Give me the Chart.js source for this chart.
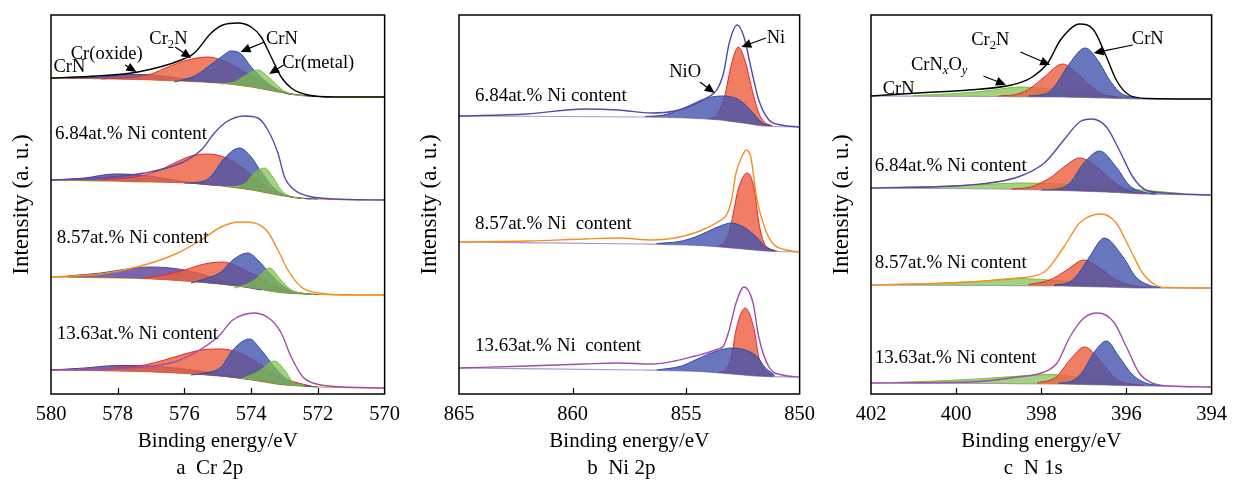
<!DOCTYPE html>
<html>
<head>
<meta charset="utf-8">
<script src="https://cdn.jsdelivr.net/npm/chart.js@4.4.1/dist/chart.umd.min.js"></script>
<style>
  html, body { margin: 0; padding: 0; background: #fff; }
  body { width: 1235px; height: 482px; position: relative; overflow: hidden; }
  .panel { position: absolute; top: 0; height: 482px; }
</style>
</head>
<body>
<div class="panel" style="left:0;width:408px"><canvas id="crChart"></canvas></div>
<div class="panel" style="left:408px;width:415px"><canvas id="niChart"></canvas></div>
<div class="panel" style="left:820px;width:415px"><canvas id="nChart"></canvas></div>
<script>
// ---- Cr 2p (binding energy eV, intensity a.u.), spectra top to bottom ----
const crEnvelope = [
    [[580,316],[578.6,318],[577.4,322],[576.1,334],[575.7,341],[575.2,361],[574.85,369],[574.4,371],[574.0,367],[573.7,357],[573.4,337],[573.1,317],[572.8,306],[572.3,299],[571.5,297],[570,297]],
    [[580,214],[578.5,216],[577.2,221],[576.1,231],[575.5,244],[575.1,261],[574.75,272],[574.2,278],[573.8,276],[573.5,264],[573.2,241],[573.0,217],[572.7,204],[572.3,198],[571.5,195],[570,194]],
    [[580,117],[578.5,120],[577.2,129],[576.2,141],[575.5,154],[574.9,167],[574.35,172],[573.9,171],[573.5,162],[573.2,144],[572.9,124],[572.5,107],[572.0,101],[571,99],[570,99]],
    [[580,24],[578.5,25],[577.2,27],[576.3,32],[575.7,41],[575.0,57],[574.55,74],[573.9,81],[573.4,74],[573.1,61],[572.8,37],[572.45,17],[572.15,11],[571.5,7.5],[570,6]]
];
const crBackground = [
    [[580,316],[577,314],[575,311],[574,307],[573,301],[572,297.5],[570,297]],
    [[580,214],[577,212],[575.5,210],[574,204],[573,198],[572,195],[570,194]],
    [[580,117],[577,115],[575,110],[574,106],[573,101],[572,99.5],[570,99]],
    [[580,24],[577,22],[575,18],[574,14],[573,9],[572,7],[570,6]]
];
const crOxide = [
    [[579.5,316],[578.5,317],[577.6,319.5],[577.0,319],[576.2,316],[575.5,313],[575,311.5]],
    [[580,214],[579,216],[578.1,220],[577.3,219],[576.5,215],[575.8,211],[575,208.5]],
    [[579.5,118],[578.5,121],[577.7,125],[577.0,127],[576.3,125.5],[575.6,121],[575,115],[574.3,108],[573.7,104]],
    [[580,24],[579,26],[578,28.5],[577,28],[576,25],[575,20],[574,15],[573,10.5]]
];
const crCr2N = [
    [[578.5,315],[577.5,317],[577.0,320],[576.5,327],[575.9,334],[575.3,337],[574.75,332],[574.2,322],[573.6,311],[573.1,303],[572.6,299],[572,297.5]],
    [[578.5,214],[577.5,217],[576.8,223],[576.3,231],[575.8,238],[575.3,240],[574.75,236],[574.3,227],[573.8,214],[573.3,202],[572.8,197],[572.2,195]],
    [[577.2,116],[576.6,119],[576.0,124],[575.4,130],[574.85,132],[574.2,124],[573.6,114],[573.0,105],[572.6,101.5],[572,99.5]],
    [[578.3,25],[577.2,29],[576.6,34],[576.1,39],[575.5,44],[574.9,45],[574.35,41],[573.8,31],[573.1,17],[572.7,12],[572.2,8]]
];
const crCrN = [
    [[576.3,312],[575.7,318],[575.3,327],[574.9,337],[574.6,343],[574.3,340],[574.0,327],[573.5,311],[573.0,301],[572.6,299],[572,297.5]],
    [[576.0,211],[575.4,213],[575.1,222],[574.85,234],[574.35,246],[574.0,237],[573.7,222],[573.35,207],[573.0,199],[572.6,196],[572,195]],
    [[575.8,111],[575.4,115],[574.9,122],[574.55,134],[574.1,141],[573.8,134],[573.4,119],[573.0,107],[572.7,102],[572.2,99.5]],
    [[575.8,19],[575.4,21],[574.9,27],[574.55,44],[574.05,55],[573.7,44],[573.3,27],[572.9,14],[572.5,9],[572,7]]
];
const crMetal = [
    [[574.9,310],[574.5,312],[574.2,318],[573.8,324],[573.45,316],[573.1,305],[572.8,300],[572.4,298]],
    [[574.7,207],[574.2,210],[573.9,221],[573.6,226],[573.35,217],[573.1,204],[572.85,198],[572.4,195.5]],
    [[574.5,106],[574.18,109],[573.89,114],[573.45,126],[573.11,114],[572.8,104],[572.5,101],[572.1,99.5]],
    [[574.3,15],[573.8,22],[573.3,33],[573.0,24],[572.75,12],[572.4,8.5]]
];

// ---- Ni 2p ----
const niEnvelope = [
    [[865,278],[862,280],[859.5,285],[858,284],[856.5,281],[855.5,283],[854.8,288],[854.1,296],[853.65,304],[853.35,321],[853.1,351],[852.75,369],[852.45,357],[852.15,327],[851.8,294],[851.35,274],[850.8,269],[850,267]],
    [[865,152],[862,153],[859.5,155],[858,156],[856.5,154],[855.5,156],[854.5,162],[854.1,166],[853.6,172],[853.2,180],[853.0,194],[852.8,221],[852.55,237],[852.35,244],[852.15,237],[851.9,197],[851.55,167],[851.2,151],[850.6,144],[850,142]],
    [[865,26],[862,28],[859.5,30],[858,31],[856.5,30],[855.5,33],[854.6,38],[854.1,41],[853.6,45],[853.35,48],[853.1,64],[852.8,91],[852.45,107],[852.05,91],[851.8,57],[851.35,27],[850.75,19],[850,17]]
];
const niBackground = [
    [[865,278],[857,277],[855,276],[853.5,274],[852.5,271],[851.5,268],[850,267]],
    [[865,152],[857,150],[855,149],[853.5,147],[852.5,145],[851.5,143],[850,142]],
    [[865,26],[857,24],[855,23],[853.5,21],[852.5,19],[851.5,17.5],[850,17]]
];
const niOxide = [
    [[856.8,277.5],[856.0,279],[855.3,284],[854.8,289],[854.2,295],[853.45,298],[852.65,294],[852.05,281],[851.7,272],[851.3,268.5]],
    [[856.3,150.5],[855.3,152.5],[854.6,157],[854.1,162],[853.5,168],[853.0,171],[852.4,166],[851.9,157],[851.5,147],[851.1,143.5]],
    [[856.3,24],[855.2,28],[854.6,34],[854.1,39],[853.5,44],[853.0,46],[852.4,44],[851.9,38],[851.5,26],[851.1,19]]
];
const niMetal = [
    [[854.0,275],[853.6,280],[853.3,298],[853.0,330],[852.7,347],[852.4,333],[852.1,305],[851.8,281],[851.5,271],[851.2,268.5]],
    [[853.6,148],[853.25,153],[853.0,172],[852.7,205],[852.3,221],[852.0,205],[851.8,172],[851.6,153],[851.3,145],[851.0,143]],
    [[853.6,21],[853.2,26],[853.0,37],[852.8,64],[852.4,86],[852.0,64],[851.8,37],[851.5,23],[851.2,19]]
];

// ---- N 1s ----
const nEnvelope = [
    [[402,298],[400.9,301],[399.7,304],[398.7,309],[398.25,316],[397.85,331],[397.55,354],[397.1,370],[396.77,364],[396.47,337],[396.24,314],[395.94,299],[395.5,295.5],[394,295]],
    [[402,206],[399.7,209],[398.55,217],[397.93,231],[397.47,254],[397.1,272],[396.82,275],[396.47,267],[396.17,244],[395.85,217],[395.55,204],[395.1,201],[394,199]],
    [[402,109],[399.7,112],[398.55,116],[397.93,122],[397.47,147],[397.1,171],[396.6,180],[396.24,171],[395.94,147],[395.62,121],[395.32,109],[395.0,106.5],[394,106]],
    [[402,11],[399.7,12],[398.55,17],[397.93,22],[397.63,31],[397.33,57],[397.0,76],[396.68,81],[396.3,72],[396.0,47],[395.7,21],[395.4,11],[395.0,8],[394,7]]
];
const nBackground = [
    [[402,298],[399,297.5],[397.5,297],[396.5,296],[395.5,295],[394,295]],
    [[402,206],[399,205],[397.5,203.5],[396.5,202],[395.5,200],[394,199]],
    [[402,109],[399,108.5],[397.5,108],[396.5,107],[395.5,106],[394,106]],
    [[402,11],[399,10.5],[397.5,10],[396.5,9],[395.5,8],[394,7]]
];
const nCrNxOy = [
    [[401,298.5],[400,300.5],[399.2,303.5],[398.5,307],[397.8,305],[397,301],[396.3,297.5],[395.8,296]],
    [[401.5,206.5],[400.5,207.5],[399.5,209],[398.5,211],[397.5,210],[396.5,207],[395.5,203.5],[394.7,200.5]],
    [[401.5,109.5],[400.5,110.5],[399.5,112.5],[398.6,115.5],[397.8,114],[397,111],[396.2,108],[395.5,106.5]],
    [[401.5,11.5],[400.5,13],[399.5,15],[398.5,18],[397.8,19.5],[397.2,17],[396.5,13],[395.8,9.5]]
];
const nCr2N = [
    [[399.0,298],[398.55,300],[398.25,306],[397.93,317],[397.5,330],[397.17,321],[396.87,309],[396.55,299.5],[396.2,297]],
    [[398.7,205],[398.25,207],[397.8,216],[397.47,227],[397.1,236],[396.7,227],[396.3,212],[395.95,203],[395.6,200.5]],
    [[398.3,109.5],[397.8,114],[397.4,124],[397.0,134],[396.63,126],[396.24,114],[395.8,108],[395.4,106.5]],
    [[398.1,11],[397.65,17],[397.33,34],[396.98,47],[396.63,34],[396.3,17],[396.0,10.5],[395.6,9]]
];
const nCrN = [
    [[398.3,298],[397.85,301],[397.63,311],[397.33,331],[396.97,346],[396.63,331],[396.4,314],[396.08,299.5],[395.7,296.5]],
    [[398,204],[397.63,205],[397.33,211],[397.0,231],[396.63,243],[396.24,227],[395.94,209],[395.62,202],[395.3,200]],
    [[397.7,109],[397.33,112],[397.1,122],[396.87,137],[396.52,156],[396.08,137],[395.78,117],[395.48,109],[395.2,106.5]],
    [[397.6,10.5],[397.23,14],[397.0,24],[396.77,41],[396.47,53],[396.17,37],[395.85,19],[395.55,11],[395.2,8.5]]
];

const crTicks = [580, 578, 576, 574, 572, 570];
const niTicks = [865, 860, 855, 850];
const nTicks = [402, 400, 398, 396, 394];
const captions = ['a  Cr 2p', 'b  Ni 2p', 'c  N 1s'];

const SERIF = '"Liberation Serif", "Times New Roman", serif';
const BLACK = '#000000', PURPLE = '#5a48a6', ORANGE = '#f4901e', MAGENTA = '#a04eab';
const GOLD_BG = '#d6a21e', LILAC_BG = '#a995cf';

const RED = { line: '#e3262b', fill: 'rgba(236,98,66,0.82)', order: 30 };
const BLUE = { line: '#2a4ea3', fill: 'rgba(68,82,172,0.8)', order: 20 };
const GREEN = { line: '#78bd3a', fill: 'rgba(128,192,76,0.72)', order: 10 };
const VIOLET = { line: '#4f3b93', fill: 'rgba(88,62,150,0.8)', order: 40 };

function curve(points, color, width, fill, order, bg) {
    return {
        data: points.map(p => ({ x: p[0], y: p[1] })),
        borderColor: color,
        borderWidth: width,
        backgroundColor: bg || 'transparent',
        fill: fill,
        order: order,
        pointRadius: 0,
        cubicInterpolationMode: 'monotone'
    };
}

// one background line per spectrum, peaks filled down to it, envelope on top
function buildSpectra(envelopes, backgrounds, peaks, envColors, bgColor) {
    const datasets = [];
    envelopes.forEach((env, i) => {
        const bgIndex = datasets.length;
        datasets.push(curve(backgrounds[i], bgColor, 1.1, false, 50));
        peaks.forEach(p => {
            datasets.push(curve(p.data[i], p.style.line, 1, { target: bgIndex }, p.style.order, p.style.fill));
        });
        datasets.push(curve(env, envColors[i], 1.4, false, 0));
    });
    return datasets;
}

function drawRich(ctx, parts, x, y, size, align) {
    const fontFor = st => (st === 'isub' ? 'italic ' : '') + (st ? size * 0.68 : size).toFixed(1) + 'px ' + SERIF;
    let w = 0;
    parts.forEach(([t, st]) => { ctx.font = fontFor(st); w += ctx.measureText(t).width; });
    let cx = align === 'left' ? x : x - w / 2;
    const base = y + size * 0.33;
    ctx.textAlign = 'left';
    ctx.textBaseline = 'alphabetic';
    parts.forEach(([t, st]) => {
        ctx.font = fontFor(st);
        ctx.fillText(t, cx, st ? base + size * 0.22 : base);
        cx += ctx.measureText(t).width;
    });
}

function drawArrow(ctx, x1, y1, x2, y2) {
    const ang = Math.atan2(y2 - y1, x2 - x1);
    const len = 10, half = 4.5;
    ctx.beginPath();
    ctx.moveTo(x1, y1);
    ctx.lineTo(x2 - Math.cos(ang) * len * 0.8, y2 - Math.sin(ang) * len * 0.8);
    ctx.stroke();
    ctx.beginPath();
    ctx.moveTo(x2, y2);
    ctx.lineTo(x2 - Math.cos(ang) * len - Math.sin(ang) * half, y2 - Math.sin(ang) * len + Math.cos(ang) * half);
    ctx.lineTo(x2 - Math.cos(ang) * len + Math.sin(ang) * half, y2 - Math.sin(ang) * len - Math.cos(ang) * half);
    ctx.closePath();
    ctx.fill();
}

// frame, inward ticks, peak labels, arrows and caption
const framePlugin = {
    id: 'frame',
    afterDraw(chart, args, opts) {
        const { ctx, chartArea: a } = chart;
        const xs = chart.scales.x, ys = chart.scales.y;
        ctx.save();
        ctx.strokeStyle = '#000';
        ctx.fillStyle = '#000';
        ctx.lineWidth = 1.5;
        ctx.strokeRect(a.left, a.top, a.right - a.left, a.bottom - a.top);
        ctx.lineWidth = 1.2;
        opts.ticks.slice(1, -1).forEach(v => {
            const px = Math.round(xs.getPixelForValue(v)) + 0.5;
            ctx.beginPath();
            ctx.moveTo(px, a.bottom);
            ctx.lineTo(px, a.bottom - 6);
            ctx.stroke();
        });
        opts.notes.forEach(n => {
            drawRich(ctx, n.parts, xs.getPixelForValue(n.x), ys.getPixelForValue(n.y), n.size || 18.5, n.align);
        });
        ctx.lineWidth = 1.2;
        opts.arrows.forEach(r => {
            drawArrow(ctx, xs.getPixelForValue(r[0]), ys.getPixelForValue(r[1]), xs.getPixelForValue(r[2]), ys.getPixelForValue(r[3]));
        });
        ctx.font = '21px ' + SERIF;
        ctx.textAlign = 'center';
        ctx.textBaseline = 'middle';
        ctx.fillText(opts.caption, (a.left + a.right) / 2 - 8, 468);
        ctx.restore();
    }
};

function makeChart(id, datasets, range, step, rightPad, frame) {
    return new Chart(document.getElementById(id), {
        type: 'line',
        data: { datasets: datasets },
        options: {
            responsive: true,
            maintainAspectRatio: false,
            animation: false,
            events: [],
            layout: { padding: { left: 0, top: 15, right: rightPad, bottom: 28 }, autoPadding: false },
            plugins: { legend: { display: false }, tooltip: { enabled: false }, frame: frame },
            scales: {
                x: {
                    type: 'linear',
                    min: range[1],
                    max: range[0],
                    reverse: true,
                    grid: { display: false, drawTicks: false },
                    border: { display: false },
                    ticks: {
                        stepSize: step,
                        autoSkip: false,
                        maxRotation: 0,
                        padding: 8,
                        color: '#000',
                        font: { family: SERIF, size: 20.5 }
                    },
                    title: {
                        display: true,
                        text: 'Binding energy/eV',
                        color: '#000',
                        padding: 0,
                        font: { family: SERIF, size: 21 }
                    },
                    afterFit: s => { s.height = 60; }
                },
                y: {
                    min: 0,
                    max: 379,
                    grid: { display: false, drawTicks: false },
                    border: { display: false },
                    ticks: { display: false },
                    title: {
                        display: true,
                        text: 'Intensity (a. u.)',
                        color: '#000',
                        padding: { top: 8, bottom: 0 },
                        font: { family: SERIF, size: 23 }
                    },
                    afterFit: s => { s.width = 51; }
                }
            }
        },
        plugins: [framePlugin]
    });
}

const sample = (t, x, y) => ({ parts: [[t]], x: x, y: y, align: 'left', size: 19 });

makeChart('crChart',
    buildSpectra(crEnvelope, crBackground, [
        { data: crOxide, style: VIOLET },
        { data: crCr2N, style: RED },
        { data: crCrN, style: BLUE },
        { data: crMetal, style: GREEN }
    ], [BLACK, PURPLE, ORANGE, MAGENTA], GOLD_BG),
    [580, 570], 2, 10,
    {
        ticks: crTicks,
        caption: captions[0],
        notes: [
            sample('6.84at.% Ni content', 579.88, 261),
            sample('8.57at.% Ni content', 579.83, 157),
            sample('13.63at.% Ni content', 579.83, 61),
            { parts: [['Cr'], ['2', 'sub'], ['N']], x: 576.48, y: 356 },
            { parts: [['Cr(oxide)']], x: 578.33, y: 341 },
            { parts: [['CrN']], x: 579.45, y: 328 },
            { parts: [['CrN']], x: 573.08, y: 356 },
            { parts: [['Cr(metal)']], x: 571.99, y: 332 }
        ],
        arrows: [
            [576.28, 347, 575.79, 336],
            [577.78, 329, 577.44, 322],
            [573.6, 352, 574.32, 342],
            [573.03, 329, 573.46, 320]
        ]
    });

makeChart('niChart',
    buildSpectra(niEnvelope, niBackground, [
        { data: niMetal, style: RED },
        { data: niOxide, style: BLUE }
    ], [PURPLE, ORANGE, MAGENTA], LILAC_BG),
    [865, 850], 5, 18,
    {
        ticks: niTicks,
        caption: captions[1],
        notes: [
            sample('6.84at.% Ni content', 864.3, 299),
            sample('8.57at.% Ni  content', 864.3, 171),
            sample('13.63at.% Ni  content', 864.3, 49),
            { parts: [['NiO']], x: 855.04, y: 323 },
            { parts: [['Ni']], x: 851.04, y: 357 }
        ],
        arrows: [
            [854.39, 312, 853.74, 301],
            [851.48, 356, 852.57, 347]
        ]
    });

makeChart('nChart',
    buildSpectra(nEnvelope, nBackground, [
        { data: nCrNxOy, style: Object.assign({}, GREEN, { order: 40 }) },
        { data: nCr2N, style: RED },
        { data: nCrN, style: BLUE }
    ], [BLACK, PURPLE, ORANGE, MAGENTA], LILAC_BG),
    [402, 394], 2, 18,
    {
        ticks: nTicks,
        caption: captions[2],
        notes: [
            sample('6.84at.% Ni content', 401.91, 229),
            sample('8.57at.% Ni content', 401.91, 132),
            sample('13.63at.% Ni content', 401.91, 37),
            { parts: [['Cr'], ['2', 'sub'], ['N']], x: 399.2, y: 355 },
            { parts: [['CrN'], ['x', 'isub'], ['O'], ['y', 'isub']], x: 400.4, y: 330 },
            { parts: [['CrN']], x: 401.35, y: 306 },
            { parts: [['CrN']], x: 395.5, y: 356 }
        ],
        arrows: [
            [398.49, 342, 397.79, 329],
            [399.36, 318, 398.83, 309],
            [395.85, 349, 396.77, 341]
        ]
    });
</script>
</body>
</html>
